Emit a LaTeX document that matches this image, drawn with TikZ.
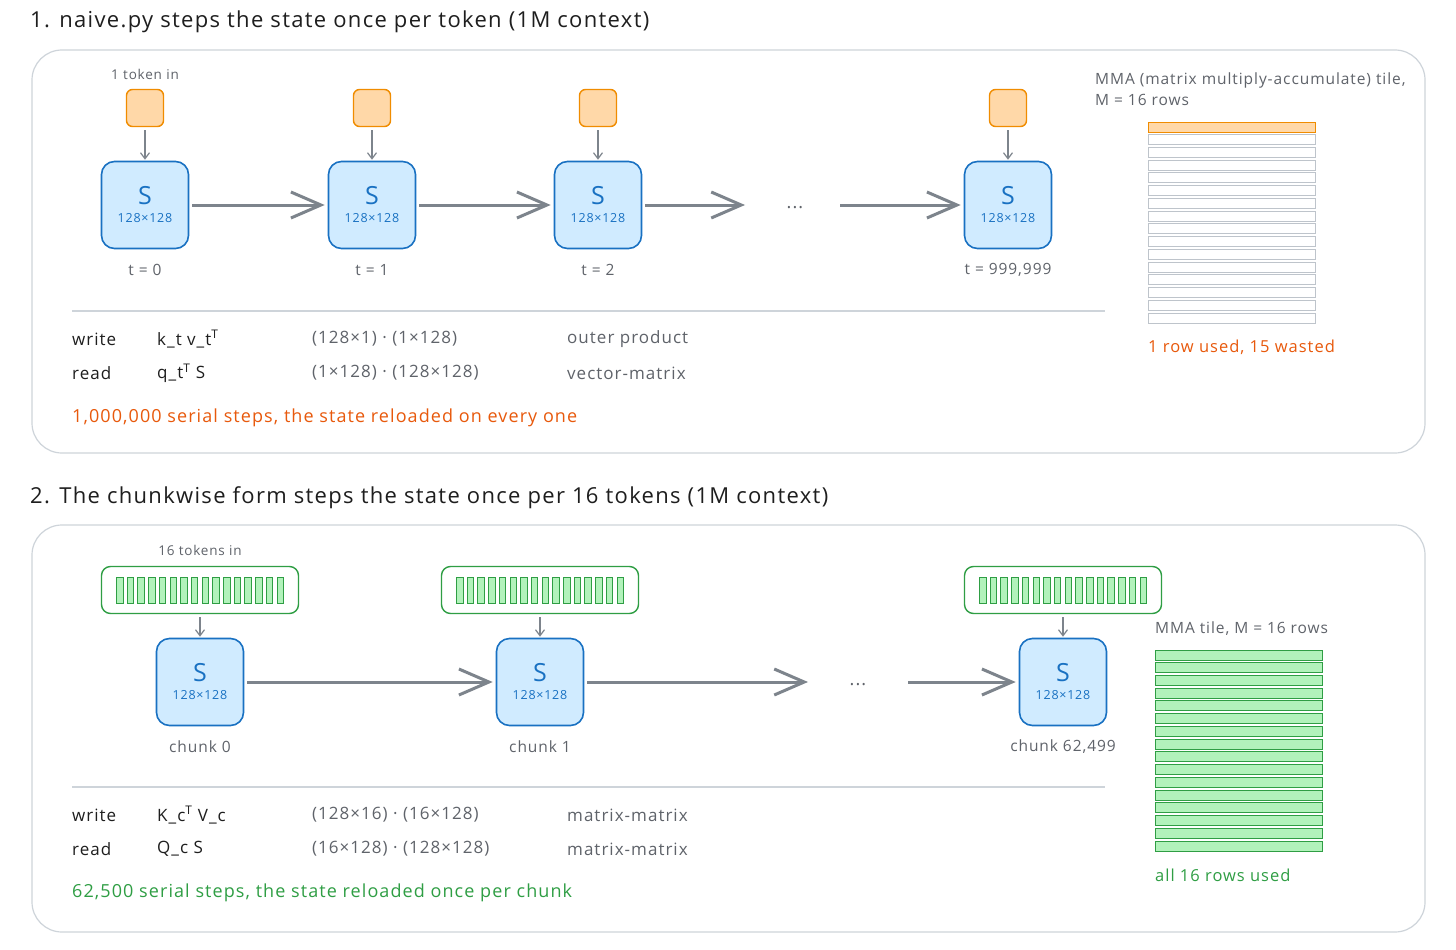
\documentclass[tikz,border=0pt]{standalone}
\usepackage{fontspec}
\setmainfont[LetterSpace=6]{Open Sans}
\usetikzlibrary{arrows.meta}

\definecolor{inkdark}{HTML}{1E1E1E}
\definecolor{inkgray}{HTML}{5F636A}
\definecolor{panelgray}{HTML}{CED4DA}
\definecolor{arrowgray}{HTML}{7D848C}
\definecolor{stateblue}{HTML}{1971C2}
\definecolor{statefill}{HTML}{D0EBFF}
\definecolor{tokorange}{HTML}{F08C00}
\definecolor{tokfill}{HTML}{FFD8A8}
\definecolor{warnred}{HTML}{E8590C}
\definecolor{chunkgreen}{HTML}{2F9E44}
\definecolor{chunkfill}{HTML}{B2F2BB}
\definecolor{rowgray}{HTML}{BEC4CB}

\begin{document}
\begin{tikzpicture}
	[x=1pt, y=-1pt,
	every node/.style={inner sep=0pt, text=inkdark},
	panel/.style={draw=panelgray, line width=1.2pt, rounded corners=30pt},
	heading/.style={anchor=west, font=\fontsize{22}{26}\selectfont},
	statebox/.style={rectangle, draw=stateblue, fill=statefill, line width=1.6pt,
		rounded corners=13pt, minimum size=87pt, align=center, text=stateblue},
	tokbox/.style={rectangle, draw=tokorange, fill=tokfill, line width=1.4pt,
		rounded corners=6pt, minimum size=37pt},
	strip/.style={rectangle, draw=chunkgreen, fill=white, line width=1.4pt,
		rounded corners=9pt, minimum width=197pt, minimum height=47pt},
	bar/.style={rectangle, draw=chunkgreen, fill=chunkfill, line width=0.9pt,
		minimum width=6.5pt, minimum height=26pt},
	tilerow/.style={rectangle, draw=rowgray, fill=white, line width=0.9pt,
		minimum width=167pt, minimum height=10pt},
	smalltext/.style={text=inkgray, font=\fontsize{13.5}{15}\selectfont},
	steptext/.style={text=inkgray, font=\fontsize{15.5}{18}\selectfont},
	rowtext/.style={anchor=west, font=\fontsize{17}{20}\selectfont},
	kindtext/.style={anchor=west, text=inkgray, font=\fontsize{17}{20}\selectfont},
	sumtext/.style={anchor=west, font=\fontsize{18}{22}\selectfont},
	feed/.style={draw=arrowgray, line width=1.2pt, shorten <=3pt, shorten >=1pt,
		-{Straight Barb[length=6pt,width=9pt]}},
	hop/.style={draw=arrowgray, line width=3pt, shorten <=3pt, shorten >=3pt,
		-{Straight Barb[length=30pt,width=26pt]}},
	sep/.style={draw=panelgray, line width=1.2pt}]
	\useasboundingbox (0,0) rectangle (1456,950);
	\fill[white] (0,0) rectangle (1456,950);

	% part 1: one token per step
	\node (title1) [heading] at (30,22) {1. naive.py steps the state once per token (1M context)};
	\draw [panel] (32,50) rectangle (1425,453);
	\node (tokin) [smalltext] at (145,74) {1 token in};
	\node (tok0) [tokbox] at (145,108) {};
	\node (tok1) [tokbox] at (372,108) {};
	\node (tok2) [tokbox] at (598,108) {};
	\node (tokN) [tokbox] at (1008,108) {};
	\node (s0) [statebox] at (145,205) {{\fontsize{25}{25}\selectfont S}\\[6pt]{\fontsize{12.5}{13}\selectfont 128×128}};
	\node (s1) [statebox] at (372,205) {{\fontsize{25}{25}\selectfont S}\\[6pt]{\fontsize{12.5}{13}\selectfont 128×128}};
	\node (s2) [statebox] at (598,205) {{\fontsize{25}{25}\selectfont S}\\[6pt]{\fontsize{12.5}{13}\selectfont 128×128}};
	\node (sN) [statebox] at (1008,205) {{\fontsize{25}{25}\selectfont S}\\[6pt]{\fontsize{12.5}{13}\selectfont 128×128}};
	\node (t0) [steptext] at (145,270) {t = 0};
	\node (t1) [steptext] at (372,270) {t = 1};
	\node (t2) [steptext] at (598,270) {t = 2};
	\node (tN) [steptext] at (1008,270) {t = 999,999};
	\node (dots1) [text=inkgray, font=\fontsize{18}{20}\selectfont] at (795,208) {...};
	\coordinate (gap1a) at (748,205);
	\coordinate (gap1b) at (837,205);
	\draw [feed] (tok0) -- (s0);
	\draw [feed] (tok1) -- (s1);
	\draw [feed] (tok2) -- (s2);
	\draw [feed] (tokN) -- (sN);
	\draw [hop] (s0) -- (s1);
	\draw [hop] (s1) -- (s2);
	\draw [hop] (s2) -- (gap1a);
	\draw [hop] (gap1b) -- (sN);
	\coordinate (sep1a) at (72,311);
	\coordinate (sep1b) at (1105,311);
	\draw [sep] (sep1a) -- (sep1b);
	\node (w1) [rowtext] at (72,339) {write};
	\node (w1op) [rowtext] at (157,339) {k\_t v\_t\textsuperscript{T}};
	\node (w1dim) [kindtext] at (312,339) {(128×1) · (1×128)};
	\node (w1kind) [kindtext] at (567,339) {outer product};
	\node (r1) [rowtext] at (72,373) {read};
	\node (r1op) [rowtext] at (157,373) {q\_t\textsuperscript{T} S};
	\node (r1dim) [kindtext] at (312,373) {(1×128) · (128×128)};
	\node (r1kind) [kindtext] at (567,373) {vector-matrix};
	\node (sum1) [sumtext, text=warnred] at (72,418) {1,000,000 serial steps, the state reloaded on every one};
	\node (mma1) [anchor=north west, align=left, text=inkgray, font=\fontsize{15.5}{21}\selectfont] at (1095,73) {MMA (matrix multiply-accumulate) tile,\\M = 16 rows};
	\node (row1) [tilerow, draw=tokorange, fill=tokfill] at (1231.5,127) {};
	\foreach \r in {1,...,15}
		\node (row1-\r) [tilerow] at (1231.5,127+12.73*\r) {};
	\node (used1) [anchor=west, text=warnred, font=\fontsize{16.5}{20}\selectfont] at (1148,347) {1 row used, 15 wasted};

	% part 2: sixteen tokens per step
	\node (title2) [heading] at (30,498) {2. The chunkwise form steps the state once per 16 tokens (1M context)};
	\draw [panel] (32,525) rectangle (1425,932);
	\node (chunkin) [smalltext] at (200,550) {16 tokens in};
	\node (str0) [strip] at (200,590) {};
	\node (str1) [strip] at (540,590) {};
	\node (strN) [strip] at (1063,590) {};
	\foreach \cx in {200,540,1063}
		\foreach \i in {0,...,15}
			\node [bar] at (\cx-80.25+10.7*\i,590) {};
	\node (c0) [statebox] at (200,682) {{\fontsize{25}{25}\selectfont S}\\[6pt]{\fontsize{12.5}{13}\selectfont 128×128}};
	\node (c1) [statebox] at (540,682) {{\fontsize{25}{25}\selectfont S}\\[6pt]{\fontsize{12.5}{13}\selectfont 128×128}};
	\node (cN) [statebox] at (1063,682) {{\fontsize{25}{25}\selectfont S}\\[6pt]{\fontsize{12.5}{13}\selectfont 128×128}};
	\node (k0) [steptext] at (200,747) {chunk 0};
	\node (k1) [steptext] at (540,747) {chunk 1};
	\node (kN) [steptext] at (1063,747) {chunk 62,499};
	\node (dots2) [text=inkgray, font=\fontsize{18}{20}\selectfont] at (858,685) {...};
	\coordinate (gap2a) at (811,682);
	\coordinate (gap2b) at (905,682);
	\draw [feed] (str0) -- (c0);
	\draw [feed] (str1) -- (c1);
	\draw [feed] (strN) -- (cN);
	\draw [hop] (c0) -- (c1);
	\draw [hop] (c1) -- (gap2a);
	\draw [hop] (gap2b) -- (cN);
	\coordinate (sep2a) at (72,787);
	\coordinate (sep2b) at (1105,787);
	\draw [sep] (sep2a) -- (sep2b);
	\node (w2) [rowtext] at (72,815) {write};
	\node (w2op) [rowtext] at (157,815) {K\_c\textsuperscript{T} V\_c};
	\node (w2dim) [kindtext] at (312,815) {(128×16) · (16×128)};
	\node (w2kind) [kindtext] at (567,815) {matrix-matrix};
	\node (r2) [rowtext] at (72,849) {read};
	\node (r2op) [rowtext] at (157,849) {Q\_c S};
	\node (r2dim) [kindtext] at (312,849) {(16×128) · (128×128)};
	\node (r2kind) [kindtext] at (567,849) {matrix-matrix};
	\node (sum2) [sumtext, text=chunkgreen] at (72,893) {62,500 serial steps, the state reloaded once per chunk};
	\node (mma2) [anchor=west, text=inkgray, font=\fontsize{15.5}{18}\selectfont] at (1155,629) {MMA tile, M = 16 rows};
	\foreach \r in {0,...,15}
		\node (row2-\r) [tilerow, draw=chunkgreen, fill=chunkfill] at (1238.5,655+12.73*\r) {};
	\node (used2) [anchor=west, text=chunkgreen, font=\fontsize{16.5}{20}\selectfont] at (1155,875) {all 16 rows used};
\end{tikzpicture}
\end{document}
